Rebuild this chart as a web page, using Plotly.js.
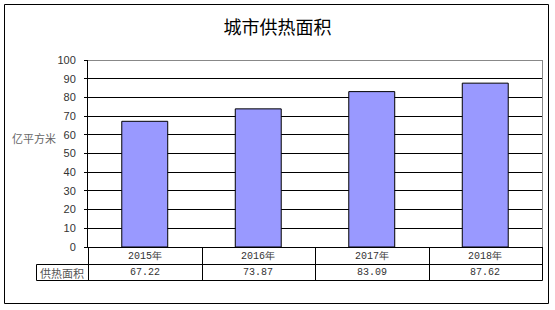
<!DOCTYPE html>
<html>
<head>
<meta charset="utf-8">
<script src="https://cdn.plot.ly/plotly-3.0.1.min.js"></script>
<style>
  html, body { margin: 0; padding: 0; background: #fff; }
  #chart { width: 555px; height: 310px; }
</style>
</head>
<body>
<div id="chart"></div>
<script>
// Heated floor area of cities, 100 million m²
const years = ['2015年', '2016年', '2017年', '2018年'];
const heatingArea = [67.22, 73.87, 83.09, 87.62];
const seriesName = '供热面积';
const unitLabel = '亿平方米';
const chartTitle = '城市供热面积';

// Plot-area geometry in pixels
const W = 555, H = 310;
const PL = 88, PR = 542, PT = 60, PB = 247;
const xp = px => (px - PL) / (PR - PL);
const yp = py => (PB - py) / (PB - PT);

const tableFont = { family: 'Liberation Mono, DejaVu Sans Mono, monospace', size: 10, color: '#333' };
const cjkFont = 'Noto Sans CJK SC, sans-serif';

const shapes = [];
const line = (x0, y0, x1, y1, color) => shapes.push({
  type: 'line', xref: 'paper', yref: 'paper',
  x0: xp(x0), y0: yp(y0), x1: xp(x1), y1: yp(y1),
  line: { color: color || '#000', width: 1 }, layer: 'above'
});

// Outer chart frame
shapes.push({
  type: 'rect', xref: 'paper', yref: 'paper',
  x0: xp(4.5), y0: yp(4.5), x1: xp(548.5), y1: yp(303.5),
  line: { color: '#000', width: 1 }, layer: 'above'
});
// Plot-area border (top and right)
line(PL, PT + 0.5, PR + 0.5, PT + 0.5, '#888');
line(PR + 0.5, PT, PR + 0.5, PB, '#888');

// Data table grid below the axis
const rowMid = 264.5, rowBot = 280.5, labelLeft = 36.5;
line(labelLeft, rowMid, PR + 0.5, rowMid);
line(labelLeft, rowBot, PR + 0.5, rowBot);
line(labelLeft, rowMid, labelLeft, rowBot);
for (let i = 0; i <= years.length; i++) {
  const xpx = Math.round(PL + i * (PR - PL) / years.length) + 0.5;
  line(xpx, PB, xpx, rowBot);
}

const annotations = [];
years.forEach((yr, i) => {
  annotations.push({
    x: yr, xref: 'x', xanchor: 'center', y: yp(256), yref: 'paper', yanchor: 'middle',
    text: yr, showarrow: false, font: tableFont
  });
  annotations.push({
    x: yr, xref: 'x', xanchor: 'center', y: yp(272.5), yref: 'paper', yanchor: 'middle',
    text: heatingArea[i].toFixed(2), showarrow: false, font: tableFont
  });
});
annotations.push({
  x: xp(62), xref: 'paper', xanchor: 'center', y: yp(272.5), yref: 'paper', yanchor: 'middle',
  text: seriesName, showarrow: false,
  font: { family: cjkFont, size: 11, color: '#555' }
});
annotations.push({
  x: xp(34), xref: 'paper', xanchor: 'center', y: yp(138), yref: 'paper', yanchor: 'middle',
  text: unitLabel, showarrow: false,
  font: { family: cjkFont, size: 11, color: '#666' }
});

const trace = {
  type: 'bar',
  x: years,
  y: heatingArea,
  name: seriesName,
  marker: { color: '#9999FF', line: { color: '#000', width: 1 } },
  hoverinfo: 'x+y'
};

const layout = {
  width: W, height: H,
  margin: { l: PL, r: W - PR, t: PT, b: H - PB, pad: 0 },
  paper_bgcolor: '#fff', plot_bgcolor: '#fff',
  showlegend: false,
  bargap: 0.595,
  title: {
    text: chartTitle,
    xref: 'container', x: 0.5, xanchor: 'center',
    yref: 'container', y: 1 - 28 / H, yanchor: 'middle',
    font: { family: cjkFont, size: 18, color: '#000' }
  },
  xaxis: {
    type: 'category', range: [-0.5, years.length - 0.5],
    showticklabels: false, showgrid: false, zeroline: false,
    showline: true, linecolor: '#000', linewidth: 1, ticks: '',
    fixedrange: true
  },
  yaxis: {
    range: [0, 100], dtick: 10, tick0: 0,
    showgrid: true, gridcolor: '#000', gridwidth: 1,
    zeroline: true, zerolinecolor: '#000', zerolinewidth: 1,
    showline: true, linecolor: '#000', linewidth: 1,
    ticks: 'outside', ticklen: 3, tickcolor: '#000', tickwidth: 1,
    tickfont: { family: 'Liberation Sans, Arial, sans-serif', size: 11, color: '#333' },
    ticklabelstandoff: 6,
    fixedrange: true
  },
  shapes: shapes,
  annotations: annotations
};

Plotly.newPlot('chart', [trace], layout, { staticPlot: true, displayModeBar: false });
</script>
</body>
</html>
